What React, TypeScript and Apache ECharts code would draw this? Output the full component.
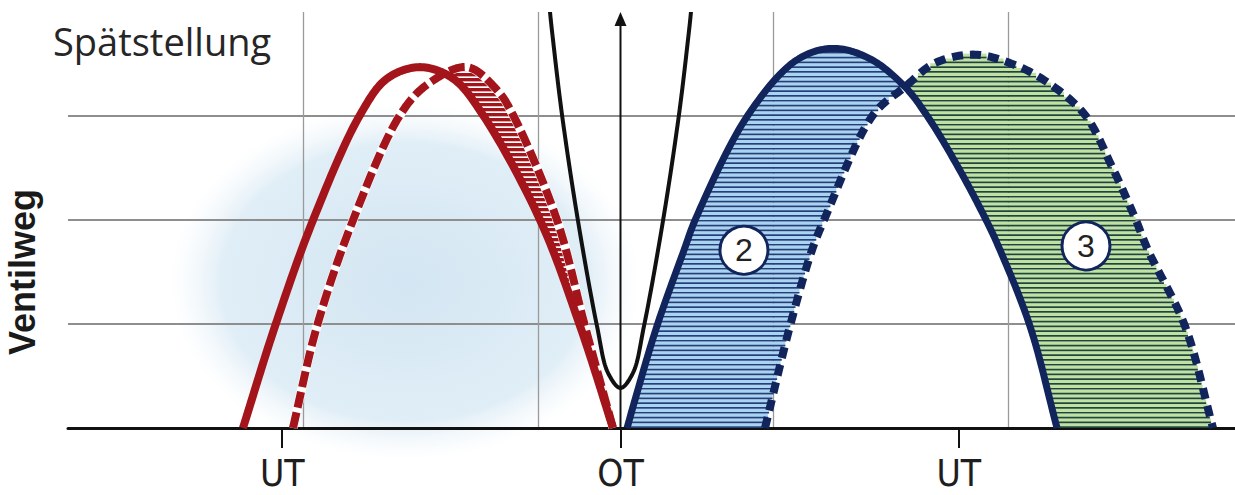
import React, { useEffect, useRef } from "react";
import * as echarts from "echarts";

// Crank angle axis (degrees) and tick labels
const crankMin = 66;
const crankMax = 687;
const tickValues = [180, 360, 540];
const tickLabels = ["UT", "OT", "UT"];
// Lift axis (arbitrary units)
const liftMin = 0;
const liftMax = 4;
// Background grid columns (decorative raster of the printed figure)
const gridColMax = 4.966;

// Exhaust valve, early (solid red)  [crank angle, lift]
const exhaustEarly: number[][] = [
  [159.1, 0], [176.2, 0.98], [196.4, 2.0], [221.4, 3.01], [235.8, 3.36], [253.3, 3.47],
  [270.9, 3.36], [286.8, 3.01], [317.2, 2.0], [338.5, 0.98], [356.0, 0],
];
// Exhaust valve, late (dashed red)
const exhaustLate: number[][] = [
  [185.7, 0], [198.5, 0.98], [217.7, 2.0], [242.7, 3.01], [257.0, 3.3], [278.3, 3.47],
  [294.3, 3.25], [302.8, 3.01], [326.2, 2.0], [341.1, 0.98], [356.0, 0],
];
// Piston curve (black)
const pistonCurve: number[][] = [
  [321.2, 4.3], [322.5, 4.0], [324.1, 3.73], [328.9, 3.01], [337.4, 1.99], [347.5, 0.98],
  [353.35, 0.53], [360.0, 0.385], [366.65, 0.53], [372.5, 0.98], [382.6, 1.99],
  [391.1, 3.01], [395.9, 3.73], [397.5, 4.0], [398.8, 4.3],
];
// Intake valve, early (solid blue)
const intakeEarly: number[][] = [
  [363.5, 0], [367.7, 0.27], [379.4, 0.98], [393.8, 1.71], [400.2, 2.02], [427.9, 3.01],
  [453.9, 3.54], [473.1, 3.65], [492.8, 3.55], [511.4, 3.28], [523.6, 2.99], [539.6, 2.51],
  [554.0, 2.02], [562.0, 1.71], [577.9, 0.98], [592.3, 0],
];
// Intake valve, late (dashed blue)
const intakeLate: number[][] = [
  [436.9, 0], [450.2, 0.98], [461.9, 1.71], [468.8, 2.02], [494.4, 3.01], [511.4, 3.28],
  [527.4, 3.51], [548.7, 3.59], [569.9, 3.49], [587.5, 3.32], [607.2, 3.01], [621.6, 2.51],
  [633.8, 2.02], [640.7, 1.71], [660.4, 0.98], [675.3, 0],
];
// Numbered area markers
const markerNames = ["2", "3"];
const markerPositions: number[][] = [[425.7, 1.71], [607.7, 1.75]];

const RED = "#a3151b";
const NAVY = "#11245c";

// Centripetal Catmull-Rom through the (pixel) points, sampled to a polyline
function catmullRom(pts: number[][], steps = 18): number[][] {
  const n = pts.length;
  const get = (i: number): number[] => {
    if (i < 0) return [2 * pts[0][0] - pts[1][0], 2 * pts[0][1] - pts[1][1]];
    if (i >= n) return [2 * pts[n - 1][0] - pts[n - 2][0], 2 * pts[n - 1][1] - pts[n - 2][1]];
    return pts[i];
  };
  const dist = (a: number[], b: number[]) =>
    Math.max(Math.pow(Math.hypot(b[0] - a[0], b[1] - a[1]), 0.5), 1e-4);
  const out: number[][] = [[pts[0][0], pts[0][1]]];
  for (let i = 0; i < n - 1; i++) {
    const p0 = get(i - 1), p1 = pts[i], p2 = pts[i + 1], p3 = get(i + 2);
    const t0 = 0;
    const t1 = t0 + dist(p0, p1);
    const t2 = t1 + dist(p1, p2);
    const t3 = t2 + dist(p2, p3);
    for (let s = 1; s <= steps; s++) {
      const t = t1 + ((t2 - t1) * s) / steps;
      const lerp = (a: number[], b: number[], ta: number, tb: number) => [
        ((tb - t) / (tb - ta)) * a[0] + ((t - ta) / (tb - ta)) * b[0],
        ((tb - t) / (tb - ta)) * a[1] + ((t - ta) / (tb - ta)) * b[1],
      ];
      const A1 = lerp(p0, p1, t0, t1);
      const A2 = lerp(p1, p2, t1, t2);
      const A3 = lerp(p2, p3, t2, t3);
      const B1 = lerp(A1, A2, t0, t2);
      const B2 = lerp(A2, A3, t1, t3);
      out.push(lerp(B1, B2, t1, t2));
    }
  }
  return out;
}

function scanIntervals(poly: number[][], y: number): number[][] {
  const xs: number[] = [];
  for (let i = 0; i < poly.length; i++) {
    const a = poly[i];
    const b = poly[(i + 1) % poly.length];
    if (a[1] > y !== b[1] > y) {
      xs.push(a[0] + ((y - a[1]) * (b[0] - a[0])) / (b[1] - a[1]));
    }
  }
  xs.sort((p, q) => p - q);
  const res: number[][] = [];
  for (let i = 0; i + 1 < xs.length; i += 2) res.push([xs[i], xs[i + 1]]);
  return res;
}

function subtractIntervals(A: number[][], B: number[][]): number[][] {
  let cur = A.map((a) => [a[0], a[1]]);
  for (const b of B) {
    const next: number[][] = [];
    for (const a of cur) {
      if (b[1] <= a[0] || b[0] >= a[1]) {
        next.push(a);
      } else {
        if (b[0] > a[0]) next.push([a[0], b[0]]);
        if (b[1] < a[1]) next.push([b[1], a[1]]);
      }
    }
    cur = next;
  }
  return cur;
}

const hatchRegions = [
  { upper: intakeEarly, lower: intakeLate, light: "#a9d4f1", dark: "#23407c", period: 4.8, darkH: 1.7 },
  { upper: intakeLate, lower: intakeEarly, light: "#bfe2a4", dark: "#1f4636", period: 4.8, darkH: 1.7 },
  { upper: exhaustLate, lower: exhaustEarly, light: RED, dark: "#ffffff", period: 5.0, darkH: 1.6 },
];

function renderHatch(params: any, api: any) {
  const cs = params.coordSys;
  const top = cs.y;
  const base = api.coord([crankMin, 0])[1];
  const children: any[] = [];
  for (const reg of hatchRegions) {
    const up = catmullRom(reg.upper.map((p) => api.coord(p)));
    const lo = catmullRom(reg.lower.map((p) => api.coord(p)));
    const P = reg.period;
    for (let yb = base; yb - P >= top - P; yb -= P) {
      const mid = yb - P / 2;
      const iv = subtractIntervals(scanIntervals(up, mid), scanIntervals(lo, mid));
      for (const seg of iv) {
        const w = seg[1] - seg[0];
        if (w < 0.5) continue;
        children.push({
          type: "rect",
          shape: { x: seg[0], y: yb - P, width: w, height: P - reg.darkH + 0.3 },
          style: { fill: reg.light },
        });
        children.push({
          type: "rect",
          shape: { x: seg[0], y: yb - reg.darkH, width: w, height: reg.darkH },
          style: { fill: reg.dark },
        });
      }
    }
  }
  return { type: "group", children };
}

function curveSeries(name: string, data: number[][], style: any, z: number, clip = false) {
  return {
    type: "custom",
    name,
    z,
    silent: true,
    clip,
    xAxisIndex: 0,
    yAxisIndex: 0,
    data: [data[0]],
    renderItem: (_params: any, api: any) => ({
      type: "polyline",
      shape: { points: catmullRom(data.map((p) => api.coord(p))) },
      style: { fill: "none", lineJoin: "round", ...style },
    }),
  };
}

export default function App() {
  const ref = useRef<HTMLDivElement>(null);
  useEffect(() => {
    if (!ref.current) return;
    const chart = echarts.init(ref.current, undefined, { renderer: "svg" });
    chart.setOption({
      animation: false,
      backgroundColor: "#ffffff",
      grid: { left: 68, right: 0, top: 12, bottom: 67, containLabel: false, outerBoundsMode: "none" },
      xAxis: [
        {
          type: "value",
          min: crankMin,
          max: crankMax,
          axisLine: { show: true, lineStyle: { color: "#111", width: 3 } },
          axisTick: {
            show: true,
            customValues: tickValues,
            length: 20,
            lineStyle: { color: "#111", width: 2 },
          },
          axisLabel: {
            show: true,
            customValues: tickValues,
            formatter: (v: number) => tickLabels[tickValues.indexOf(Math.round(v))] ?? "",
            margin: 27,
            fontSize: 37,
            lineHeight: 37,
            color: "#1e1e1e",
            fontFamily: "'Liberation Sans Narrow', 'DejaVu Sans Condensed', 'Liberation Sans', sans-serif",
          },
          splitLine: { show: false },
        },
        {
          type: "value",
          min: 0,
          max: gridColMax,
          interval: 1,
          position: "top",
          axisLine: { show: false },
          axisTick: { show: false },
          axisLabel: { show: false },
          splitLine: {
            show: true,
            showMinLine: false,
            showMaxLine: false,
            lineStyle: { color: "#9a9a9a", width: 1.3 },
          },
        },
      ],
      yAxis: {
        type: "value",
        min: liftMin,
        max: liftMax,
        interval: 1,
        axisLine: { show: false },
        axisTick: { show: false },
        axisLabel: { show: false },
        splitLine: {
          show: true,
          showMinLine: false,
          showMaxLine: false,
          lineStyle: { color: "#8e8e8e", width: 1.8 },
        },
      },
      graphic: [
        {
          type: "ellipse",
          z: -1,
          silent: true,
          shape: { cx: 405, cy: 282, rx: 235, ry: 178 },
          style: {
            fill: new echarts.graphic.RadialGradient(0.5, 0.5, 0.5, [
              { offset: 0, color: "rgba(203,225,240,0.85)" },
              { offset: 0.78, color: "rgba(212,231,243,0.72)" },
              { offset: 1, color: "rgba(235,243,249,0)" },
            ]),
          },
        },
        {
          type: "text",
          z: 100,
          silent: true,
          x: 53,
          y: 41,
          style: {
            text: "Spätstellung",
            fontSize: 38,
            fontFamily: "'Open Sans', 'Liberation Sans', sans-serif",
            fill: "#262626",
            align: "left",
            verticalAlign: "middle",
            textAlign: "left",
            textVerticalAlign: "middle",
          },
        },
        {
          type: "text",
          z: 100,
          silent: true,
          x: 22,
          y: 272,
          rotation: Math.PI / 2,
          style: {
            text: "Ventilweg",
            fontSize: 36,
            fontWeight: "bold",
            fontFamily: "'Liberation Sans', Arial, sans-serif",
            fill: "#1a1a1a",
            align: "center",
            verticalAlign: "middle",
            textAlign: "center",
            textVerticalAlign: "middle",
          },
        },
      ],
      series: [
        {
          type: "custom",
          name: "hatch",
          silent: true,
          z: 2,
          xAxisIndex: 0,
          yAxisIndex: 0,
          data: [[360, 0]],
          renderItem: renderHatch,
        },
        curveSeries("exhaust-late-underlay", exhaustLate, { stroke: "#ffffff", lineWidth: 9 }, 3),
        curveSeries("exhaust-early", exhaustEarly, { stroke: RED, lineWidth: 8 }, 4),
        curveSeries(
          "exhaust-late",
          exhaustLate,
          { stroke: RED, lineWidth: 8, lineDash: [16, 5], lineCap: "butt" },
          5
        ),
        curveSeries("piston", pistonCurve, { stroke: "#111111", lineWidth: 4 }, 5, true),
        {
          type: "custom",
          name: "ot-arrow",
          silent: true,
          z: 5,
          xAxisIndex: 0,
          yAxisIndex: 0,
          data: [[tickValues[1], liftMin]],
          renderItem: (params: any, api: any) => {
            const p = api.coord([api.value(0), api.value(1)]);
            const topY = params.coordSys.y;
            return {
              type: "group",
              children: [
                {
                  type: "line",
                  shape: { x1: p[0], y1: p[1], x2: p[0], y2: topY + 10 },
                  style: { stroke: "#111", lineWidth: 2 },
                },
                {
                  type: "polygon",
                  shape: { points: [[p[0], topY], [p[0] - 6, topY + 14], [p[0] + 6, topY + 14]] },
                  style: { fill: "#111" },
                },
              ],
            };
          },
        },
        curveSeries("intake-early", intakeEarly, { stroke: NAVY, lineWidth: 7 }, 5),
        curveSeries(
          "intake-late",
          intakeLate,
          { stroke: NAVY, lineWidth: 8, lineDash: [11, 7], lineCap: "butt" },
          5
        ),
        {
          type: "scatter",
          name: "markers",
          z: 8,
          silent: true,
          symbol: "circle",
          symbolSize: 48,
          itemStyle: { color: "#ffffff", borderColor: NAVY, borderWidth: 3, opacity: 1 },
          label: {
            show: true,
            position: "inside",
            formatter: (p: any) => p.name,
            fontSize: 32,
            color: "#222222",
            fontFamily: "'Liberation Sans', Arial, sans-serif",
          },
          data: markerPositions.map((v, i) => ({ name: markerNames[i], value: v })),
        },
      ],
    });
    return () => chart.dispose();
  }, []);
  return (
    <div
      ref={ref}
      style={{ position: "absolute", left: 0, top: 0, width: 1235, height: 495, background: "#fff" }}
    />
  );
}
